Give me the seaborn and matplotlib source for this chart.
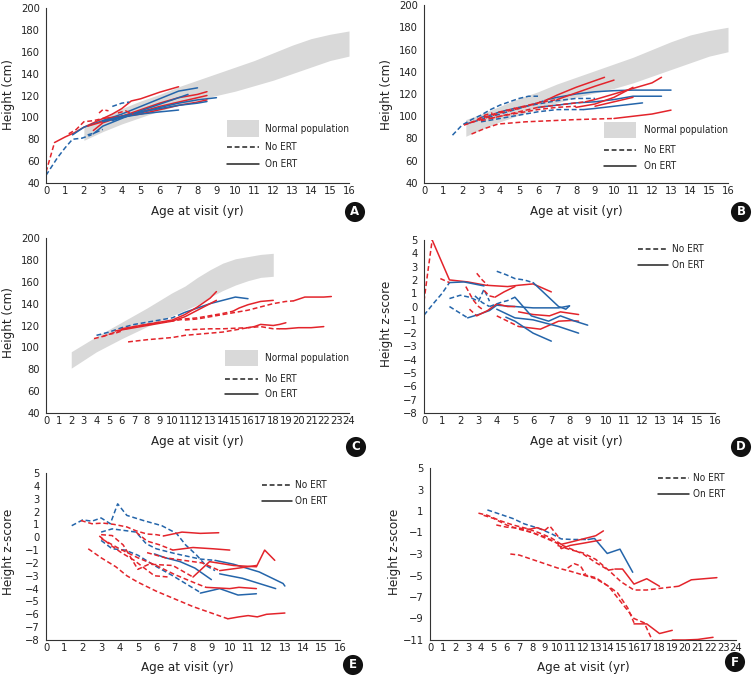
import matplotlib
matplotlib.use("Agg")
import matplotlib.pyplot as plt
from matplotlib import font_manager
import seaborn as sns

sns.set_style("white")

# pick a condensed sans font if one is installed
_fonts = font_manager.fontManager.ttflist
_narrow_family = None
_narrow_stretch = 'normal'
for f in _fonts:
    if f.name == 'Liberation Sans Narrow':
        _narrow_family = 'Liberation Sans Narrow'
        break
if _narrow_family is None:
    for f in _fonts:
        if f.name == 'DejaVu Sans' and str(f.stretch) in ('condensed', 'semi-condensed', '300', '400'):
            _narrow_family = 'DejaVu Sans'
            _narrow_stretch = 'condensed'
            break
if _narrow_family is None:
    for f in _fonts:
        if 'Condensed' in f.name or 'Narrow' in f.name:
            _narrow_family = f.name
            break

if _narrow_family is not None:
    plt.rcParams['font.family'] = [_narrow_family, 'DejaVu Sans']
    plt.rcParams['font.stretch'] = _narrow_stretch
    FS_TICK, FS_LAB, FS_LEG = 8, 9.5, 7.2
else:
    plt.rcParams['font.family'] = ['Liberation Sans', 'DejaVu Sans']
    FS_TICK, FS_LAB, FS_LEG = 7.5, 9, 7

RED = '#e3242b'
BLUE = '#2465aa'
GRAY = '#d9d9d9'

# ---------------- normal population bands ----------------
band_age_ab = [2, 3, 4, 5, 6, 7, 8, 9, 10, 11, 12, 13, 14, 15, 16]
band_lo_ab = [79, 87, 94, 100, 106, 111, 116, 120, 124, 129, 134, 140, 146, 152, 156]
band_hi_ab = [92, 100, 108, 115, 121, 128, 134, 140, 146, 152, 159, 166, 172, 176, 179]

band_age_b = [2.2, 3, 4, 5, 6, 7, 8, 9, 10, 11, 12, 13, 14, 15, 16]
band_lo_b = [82, 88, 95, 101, 107, 112, 117, 121, 125, 130, 136, 142, 148, 154, 158]
band_hi_b = [97, 102, 109, 116, 122, 129, 135, 141, 147, 153, 160, 167, 173, 177, 180]

band_age_c = [2, 4, 6, 8, 10, 11, 12, 13, 14, 15, 16, 17, 18]
band_lo_c = [81, 96, 108, 119, 129, 134, 139, 146, 152, 157, 161, 164, 165]
band_hi_c = [96, 110, 123, 136, 150, 156, 164, 171, 177, 181, 183, 185, 186]

# ---------------- individual patients: (colour, style, ages, values) ----------------
# style 'd' = No ERT (dashed), 's' = On ERT (solid)
traces_a = [
    ('r', 'd', [0, 0.2, 0.45], [50, 62, 77]),
    ('r', 's', [0.45, 1, 1.5, 2, 2.5, 3, 3.5, 4, 4.5, 5, 5.5, 6, 7], [77, 82, 86, 91, 95, 99, 103, 108, 115, 117, 120, 123, 128]),
    ('b', 'd', [0, 0.6, 1.0, 1.4, 1.9, 2.4], [47, 63, 72, 80, 81, 84]),
    ('b', 's', [1.4, 2, 3, 4, 5, 6, 7, 8], [84, 91, 97, 103, 110, 117, 124, 127]),
    ('r', 'd', [1.2, 1.6, 2.0, 2.5, 3.0], [85, 89, 96, 97, 99]),
    ('r', 's', [2.5, 3, 4, 5, 6, 7, 8, 8.5], [88, 95, 101, 107, 113, 118, 121, 123.5]),
    ('r', 's', [2.2, 3, 4, 5, 6, 7, 8, 8.5], [92, 96, 101, 105, 110, 114, 118, 120]),
    ('b', 's', [2.5, 3, 4, 5, 6, 7, 7.5], [85, 92, 99, 106, 112, 118, 121]),
    ('b', 's', [3, 4, 5, 6, 7, 8, 9], [96, 100, 104, 109, 113, 116, 118]),
    ('r', 's', [3, 3.5, 4, 5, 6, 7, 8, 8.5], [99, 100, 101, 103, 107, 111, 114, 116]),
    ('b', 's', [3, 4, 5, 6, 7, 8, 8.5], [97, 101, 105, 108, 111, 113, 114.5]),
    ('b', 's', [3.5, 4, 5, 6, 7], [97, 100, 103, 105, 106.7]),
    ('r', 'd', [2.8, 3.0, 3.3], [104, 107, 106]),
    ('r', 'd', [3.8, 4.2, 4.6], [104, 106, 103]),
    ('b', 'd', [3.5, 4, 4.4], [110, 113, 114]),
    ('b', 'd', [2.2, 2.6, 3.0], [84, 86, 89]),
]

traces_b = [
    ('b', 'd', [1.5, 2, 2.5, 3, 3.5, 4, 4.5, 5, 5.5, 6], [83, 92, 97, 101, 106, 110, 113, 116, 118, 118]),
    ('b', 'd', [2.2, 3, 4, 5, 6, 6.5], [93, 97, 102, 107, 112, 115]),
    ('b', 's', [6.5, 7, 8, 9, 10, 11, 12, 13], [115, 117, 120, 122, 123, 123.5, 123.5, 123.5]),
    ('b', 'd', [3, 3.5, 4, 5, 6, 7, 8, 9], [99, 101, 104, 108, 111, 114, 116, 116]),
    ('b', 's', [6, 7, 8, 9, 10, 11, 12, 12.5], [108, 110, 112, 113, 115, 118, 118, 118]),
    ('b', 'd', [3, 4, 5, 6, 7, 8, 8.4], [95, 98, 101, 104, 106, 106, 106]),
    ('b', 's', [8.4, 9, 10, 11, 11.5], [106, 107, 109, 111, 112]),
    ('r', 'd', [2.5, 3.2, 3.9, 5.35, 8, 10], [84, 89, 93, 95, 97, 98]),
    ('r', 's', [10, 11, 12, 13], [98, 100, 102, 105.5]),
    ('r', 'd', [2.1, 2.6, 3, 3.5, 4, 5, 6, 6.5], [92, 95, 97, 100, 103, 107, 112, 115]),
    ('r', 's', [6.5, 7, 8, 9, 9.5], [115, 119, 126, 132, 135]),
    ('r', 'd', [2.4, 3, 4, 5, 6, 7], [94, 98, 104, 108, 112, 115]),
    ('r', 's', [7, 8, 9, 10], [115, 121, 127, 132.5]),
    ('r', 'd', [3, 4, 5, 6, 7, 8, 8.5], [96, 100, 104, 108, 110, 112, 113]),
    ('r', 's', [8.5, 9, 10, 11, 12, 12.5], [113, 115, 120, 125, 130, 135]),
    ('r', 'd', [3.5, 4, 5, 6, 7, 8], [98, 100, 103, 106, 108, 109]),
    ('r', 's', [8, 9, 10, 11], [108, 111, 117, 126]),
    ('r', 's', [9, 10, 11], [109, 113, 117]),
    ('r', 'd', [2.8, 3.2, 3.6], [97, 101, 103]),
]

traces_c = [
    ('b', 'd', [4, 5, 6, 7, 8, 9, 10, 10.6], [111, 114, 118, 121, 123, 125, 127, 130]),
    ('b', 's', [10.6, 11, 12, 13, 14, 15, 16], [130, 132, 136, 140, 143, 146, 144.5]),
    ('r', 'd', [3.8, 4.5, 5, 5.5, 6], [108, 110, 112, 113, 115]),
    ('r', 's', [6, 7, 8, 9, 10, 11, 12, 13, 13.5], [117, 119, 121, 123, 125, 130, 137, 145, 151]),
    ('r', 's', [5.5, 7, 8, 9, 10, 11, 12, 13, 13.5], [115, 118, 120, 122, 124, 128, 134, 140, 143]),
    ('r', 'd', [4.5, 5, 6, 7, 8, 9, 10, 11, 12, 13, 14, 14.8], [110, 112, 116, 119, 121, 123, 124, 126, 127, 129, 131, 133]),
    ('r', 's', [14.8, 15.3, 16, 17, 18], [133, 136, 139, 142, 143]),
    ('r', 'd', [11, 12, 13, 14, 15, 16, 17, 18, 19, 19.6], [125, 126, 128, 130, 132, 134, 137, 140, 142, 142.5]),
    ('r', 's', [19.6, 20.5, 21, 22, 22.6], [142.5, 146, 146, 146, 146.5]),
    ('r', 'd', [6.5, 8, 9, 10, 11, 12, 13, 14, 15, 16], [105, 107, 108, 109, 111, 112, 113, 114, 116, 118]),
    ('r', 's', [16, 16.5, 17, 18, 18.5, 19], [118, 119, 121, 120, 121, 122.5]),
    ('r', 'd', [11, 12, 13, 14, 15, 16, 17, 18, 18.5], [116, 116.5, 117, 117, 117.5, 118, 119, 117, 117]),
    ('r', 's', [18.5, 19, 20, 21, 22], [117, 117, 118, 118, 119]),
]

traces_d = [
    ('r', 'd', [0, 0.2, 0.45], [0.4, 2.5, 5.0]),
    ('r', 's', [0.45, 1.4, 2.4, 3.4, 4.6, 5.2, 6, 7], [5.0, 2.0, 1.85, 1.6, 1.5, 1.6, 1.7, 1.1]),
    ('b', 'd', [0, 0.5, 1, 1.4], [-0.65, 0.2, 1.0, 1.8]),
    ('b', 's', [1.4, 2.2, 3.3], [1.8, 1.85, 1.55]),
    ('r', 'd', [0.9, 1.4], [2.1, 1.8]),
    ('r', 'd', [2.9, 3.2, 3.5], [2.5, 2.0, 1.6]),
    ('b', 'd', [4, 4.5, 5, 5.5, 6], [2.65, 2.4, 2.1, 2.0, 1.8]),
    ('b', 's', [6, 6.7, 7.4, 7.8, 8], [1.8, 0.9, 0.0, -0.2, 0.05]),
    ('b', 'd', [1.4, 2, 2.5, 3, 3.3, 3.6], [0.6, 0.85, 0.7, 0.4, 1.3, 0.4]),
    ('b', 'd', [1.4, 2.4], [0.0, -0.85]),
    ('b', 's', [2.4, 3.0, 3.6, 4.0, 5.0, 6.0, 7.4, 8], [-0.85, -0.6, -0.3, 0.1, 0.0, -0.1, -0.1, 0.05]),
    ('r', 'd', [2.3, 2.7, 3.0, 3.3], [1.5, 0.5, 0.0, -0.3]),
    ('r', 'd', [2.5, 2.9], [-0.2, -0.7]),
    ('r', 's', [2.9, 3.5, 4.0, 4.6, 5.0], [-0.7, -0.3, 0.2, 0.0, 0.0]),
    ('r', 'd', [3.3, 3.6, 3.9], [1.2, 0.8, 0.7]),
    ('r', 's', [3.9, 4.4, 5.0], [0.7, 1.1, 1.5]),
    ('r', 's', [5.2, 6, 6.9, 7.5, 8.5], [-0.4, -0.6, -0.7, -0.4, -0.6]),
    ('r', 'd', [4.0, 4.6, 5.2], [-0.7, -1.1, -1.5]),
    ('r', 's', [5.2, 6.4, 7.4, 8.1, 8.5], [-1.5, -1.7, -1.1, -1.05, -1.1]),
    ('b', 's', [4.0, 5.0, 6.0, 7.4, 8.5], [-0.2, -0.85, -1.0, -1.5, -2.0]),
    ('b', 's', [4.5, 5, 6, 7], [-0.8, -1.1, -2.0, -2.6]),
    ('b', 'd', [3.6, 4.2, 4.6, 5.0], [0.0, 0.3, 0.45, 0.7]),
    ('b', 's', [5.0, 5.9, 6.85, 7.5, 8.3, 9.0], [0.7, -0.7, -1.1, -0.7, -1.1, -1.4]),
    ('b', 'd', [2.8, 3.2, 3.6], [0.8, 0.3, 0.0]),
]

traces_e = [
    ('b', 'd', [1.4, 2, 2.5, 3, 3.5, 3.9, 4.4, 5.3, 6.3, 7.1, 7.6, 8.2, 8.7, 9.2], [0.9, 1.35, 1.25, 1.5, 1.05, 2.6, 1.7, 1.3, 0.9, 0.3, -0.6, -1.4, -2.2, -2.6]),
    ('r', 'd', [1.9, 2.5, 3.1, 3.7, 4.4, 4.9, 5.5, 6.0, 6.4], [1.3, 1.05, 1.1, 1.0, 0.8, 0.5, 0.25, 0.2, 0.1]),
    ('r', 's', [6.4, 7.4, 8.4, 9.4], [0.1, 0.4, 0.3, 0.35]),
    ('b', 'd', [3.0, 3.6, 4.4, 4.9, 5.45, 6.0, 7.1, 8.4, 9.2], [0.4, 0.65, 0.5, 0.4, -0.5, -0.9, -1.3, -1.7, -1.8]),
    ('b', 's', [9.2, 10.2, 11.6, 12.9, 13.0], [-1.8, -2.1, -2.7, -3.6, -3.8]),
    ('b', 's', [9.45, 10.7, 12.5], [-2.85, -3.2, -4.0]),
    ('b', 's', [5.9, 6.5, 7.3, 8.1, 8.6, 9.0], [-1.3, -1.6, -1.9, -2.4, -2.9, -3.3]),
    ('b', 'd', [3.0, 3.6, 4.3, 5.0, 5.9, 6.9, 8.4], [-0.25, -0.9, -1.0, -1.4, -2.2, -3.0, -4.3]),
    ('b', 's', [8.4, 9.45, 10.45, 11.45], [-4.35, -4.0, -4.5, -4.4]),
    ('r', 'd', [2.3, 3, 3.8, 4.4, 5, 6, 7, 8, 9, 9.9], [-0.9, -1.6, -2.3, -3.0, -3.5, -4.2, -4.8, -5.4, -5.9, -6.35]),
    ('r', 's', [9.9, 10.5, 11, 11.5, 12, 13], [-6.35, -6.2, -6.1, -6.2, -6.0, -5.9]),
    ('r', 'd', [3.0, 3.6, 4.2, 5.0, 5.6, 6.9, 8.0], [0.2, 0.13, -0.6, -2.5, -2.1, -2.2, -3.1]),
    ('r', 's', [8.0, 8.9, 10.2, 11.45, 11.9, 12.45], [-3.1, -1.9, -2.2, -2.3, -1.0, -1.8]),
    ('r', 'd', [2.9, 3.5, 4.1, 4.8, 5.9, 6.7], [0.1, -0.6, -1.2, -1.8, -3.0, -3.1]),
    ('r', 'd', [4.9, 5.5, 6.2, 6.9], [0.4, -0.3, -0.6, -1.0]),
    ('r', 's', [6.9, 8.0, 9.1, 10.0], [-1.0, -0.8, -0.9, -1.0]),
    ('r', 'd', [3.0, 4.0, 5.0, 6.0, 7.0, 8.0, 8.7], [-0.1, -0.9, -1.6, -2.2, -2.9, -3.5, -3.9]),
    ('r', 's', [8.7, 10.0, 10.5, 11.45], [-3.9, -4.0, -3.9, -4.0]),
    ('r', 'd', [5.5, 6.5, 7.5, 8.5, 9.45], [-1.2, -1.6, -1.8, -2.0, -2.6]),
    ('r', 's', [9.45, 10.5, 11.45], [-2.6, -2.4, -2.2]),
]

traces_f = [
    ('b', 'd', [4.5, 5.5, 6.5, 7.4, 8.5, 9.5, 10.3, 11.2, 12.4], [1.1, 0.7, 0.3, -0.2, -0.6, -1.1, -1.6, -1.65, -1.65]),
    ('b', 's', [12.4, 12.9, 13.9, 14.9, 15.9], [-1.65, -1.55, -2.95, -2.55, -4.7]),
    ('r', 'd', [3.8, 4.5, 5.5, 6.5, 7.5, 8.5, 9.5, 10.3], [0.8, 0.6, 0.1, -0.3, -0.6, -1.0, -1.5, -2.1]),
    ('r', 's', [10.3, 11, 12, 13, 13.6], [-2.1, -1.9, -1.6, -1.3, -0.85]),
    ('r', 'd', [5.2, 6, 7, 7.8], [-0.3, -0.5, -0.6, -0.7]),
    ('r', 's', [7.8, 8.4, 9.0], [-0.7, -0.55, -0.8]),
    ('r', 'd', [9.0, 9.4, 9.8, 10.2], [-0.8, -0.4, -1.0, -1.6]),
    ('r', 'd', [4.2, 5, 6, 7, 8, 9, 10, 10.3], [0.6, 0.3, -0.3, -0.7, -1.0, -1.4, -2.0, -2.5]),
    ('r', 's', [10.3, 11, 12, 13.4], [-2.5, -2.2, -2.0, -1.7]),
    ('r', 'd', [7, 8, 9, 10, 11, 12, 13, 14, 14.5], [-0.6, -1.0, -1.5, -2.0, -2.5, -3.0, -3.8, -4.5, -4.4]),
    ('r', 's', [14.5, 15.1, 16, 17, 18], [-4.4, -4.4, -5.8, -5.3, -6.0]),
    ('r', 'd', [10, 11, 12, 13, 14, 15, 16, 17, 18, 19.5], [-2.2, -2.6, -2.9, -3.5, -4.5, -5.6, -6.35, -6.35, -6.2, -6.0]),
    ('r', 's', [19.5, 20.5, 21.5, 22.5], [-6.0, -5.4, -5.3, -5.2]),
    ('r', 'd', [6.3, 7, 8, 9, 10, 11, 12, 13, 14, 14.7, 15.5, 16], [-3.0, -3.1, -3.5, -3.9, -4.3, -4.6, -4.95, -5.3, -6.0, -6.6, -8.0, -9.4]),
    ('r', 's', [16, 17, 18, 19], [-9.5, -9.5, -10.4, -10.1]),
    ('r', 'd', [10.8, 11.3, 11.8, 12.2], [-4.3, -3.9, -4.1, -4.9]),
    ('r', 'd', [12, 13, 14, 15, 16, 16.8, 17.5], [-4.9, -5.2, -6.0, -7.5, -9.0, -9.4, -11.2]),
    ('r', 's', [19, 20, 21, 22.2], [-11, -11, -10.95, -10.75]),
]

# ---------------- layout ----------------
W, H = 753, 677
fig = plt.figure(figsize=(W / 100, H / 100), dpi=100)

def add_ax(l, r, t, b):
    return fig.add_axes([l / W, 1 - b / H, (r - l) / W, (b - t) / H])

COL = {'r': RED, 'b': BLUE}
LS = {'d': (0, (3.2, 1.8)), 's': '-'}

def draw(ax, traces):
    for c, s, xs, ys in traces:
        sns.lineplot(x=xs, y=ys, ax=ax, color=COL[c], linestyle=LS[s], lw=1.1,
                     sort=False, estimator=None, clip_on=True)

def style_ax(ax, xmax, ylim, yticks, ylabel, xlab_px, ylab_px, box):
    l, r, t, b = box
    ax.set_xlim(0, xmax)
    ax.set_ylim(*ylim)
    ax.set_xticks(range(0, xmax + 1))
    ax.set_yticks(yticks)
    for sp in ['top', 'right']:
        ax.spines[sp].set_visible(False)
    for sp in ['left', 'bottom']:
        ax.spines[sp].set_color('#333333')
        ax.spines[sp].set_linewidth(0.8)
    ax.tick_params(axis='x', direction='in', length=3.5, width=0.7, labelsize=FS_TICK, pad=2, colors='#222222')
    ax.tick_params(axis='y', direction='out', length=3, width=0.7, labelsize=FS_TICK, pad=1.5, colors='#222222')
    ax.set_xlabel('Age at visit (yr)', fontsize=FS_LAB, color='#222222')
    ax.set_ylabel(ylabel, fontsize=FS_LAB, color='#222222')
    ax.xaxis.set_label_coords((xlab_px[0] - l) / (r - l), (b - xlab_px[1]) / (b - t))
    ax.yaxis.set_label_coords((ylab_px[0] - l) / (r - l), (b - ylab_px[1]) / (b - t))
    ax.xaxis.label.set_va('center')
    ax.yaxis.label.set_va('center')

def legend(x0, x1, ydash, ysolid, tx, ypatch=None):
    fx = lambda x: x / W
    fy = lambda y: 1 - y / H
    if ypatch is not None:
        y0, y1 = ypatch
        fig.patches.append(plt.Rectangle((fx(x0), fy(y1)), fx(x1) - fx(x0), fy(y0) - fy(y1),
                                         transform=fig.transFigure, color=GRAY, lw=0))
        fig.text(fx(tx), fy((y0 + y1) / 2), 'Normal population', fontsize=FS_LEG, va='center', ha='left', color='#222222')
    fig.lines.append(plt.Line2D([fx(x0), fx(x1)], [fy(ydash)] * 2, transform=fig.transFigure,
                                color='#222222', lw=1.1, linestyle=(0, (3.2, 1.8))))
    fig.lines.append(plt.Line2D([fx(x0), fx(x1)], [fy(ysolid)] * 2, transform=fig.transFigure,
                                color='#222222', lw=1.1))
    fig.text(fx(tx), fy(ydash), 'No ERT', fontsize=FS_LEG, va='center', ha='left', color='#222222')
    fig.text(fx(tx), fy(ysolid), 'On ERT', fontsize=FS_LEG, va='center', ha='left', color='#222222')

def badge(x, y, letter):
    fig.text(x / W, 1 - y / H, letter, fontsize=8.5, fontweight='bold', color='white',
             ha='center', va='center', family='DejaVu Sans', stretch='normal',
             bbox=dict(boxstyle='circle,pad=0.3', fc='#111111', ec='none'))

height_ticks = list(range(40, 201, 20))
z_ticks = list(range(-8, 6))
f_ticks = list(range(-11, 6, 2))

# Panel A
boxA = (46, 349, 8, 183)
axA = add_ax(*boxA)
axA.fill_between(band_age_ab, band_lo_ab, band_hi_ab, color=GRAY, lw=0)
draw(axA, traces_a)
style_ax(axA, 16, (40, 200), height_ticks, 'Height (cm)', (197, 212), (9, 95), boxA)
legend(227, 259, 147, 164, 265, ypatch=(120, 137))
badge(355, 212, 'A')

# Panel B
boxB = (424, 728, 5, 183)
axB = add_ax(*boxB)
axB.fill_between(band_age_b, band_lo_b, band_hi_b, color=GRAY, lw=0)
draw(axB, traces_b)
style_ax(axB, 16, (40, 200), height_ticks, 'Height (cm)', (576, 212), (386, 95), boxB)
legend(604, 636, 150, 166, 644, ypatch=(122, 138))
badge(741, 212, 'B')

# Panel C
boxC = (46, 349, 238, 413)
axC = add_ax(*boxC)
axC.fill_between(band_age_c, band_lo_c, band_hi_c, color=GRAY, lw=0)
draw(axC, traces_c)
style_ax(axC, 24, (40, 200), height_ticks, 'Height (cm)', (197, 442), (9, 323), boxC)
legend(225, 258, 379, 394, 265, ypatch=(350, 366))
badge(356, 447, 'C')

# Panel D
boxD = (424, 715, 240, 413)
axD = add_ax(*boxD)
draw(axD, traces_d)
style_ax(axD, 16, (-8, 5), z_ticks, 'Height z-score', (576, 442), (386, 324), boxD)
legend(638, 668, 249, 265, 672)
badge(741, 447, 'D')

# Panel E
boxE = (46, 340, 473, 640)
axE = add_ax(*boxE)
draw(axE, traces_e)
style_ax(axE, 16, (-8, 5), z_ticks, 'Height z-score', (187, 668), (9, 552), boxE)
legend(262, 292, 485, 501, 295)
badge(353, 665, 'E')

# Panel F
boxF = (430, 736, 468, 640)
axF = add_ax(*boxF)
draw(axF, traces_f)
style_ax(axF, 24, (-11, 5), f_ticks, 'Height z-score', (583, 667), (394, 552), boxF)
legend(658, 689, 478, 494, 693)
badge(735, 662, 'F')

fig.savefig('out.png', dpi=100)
